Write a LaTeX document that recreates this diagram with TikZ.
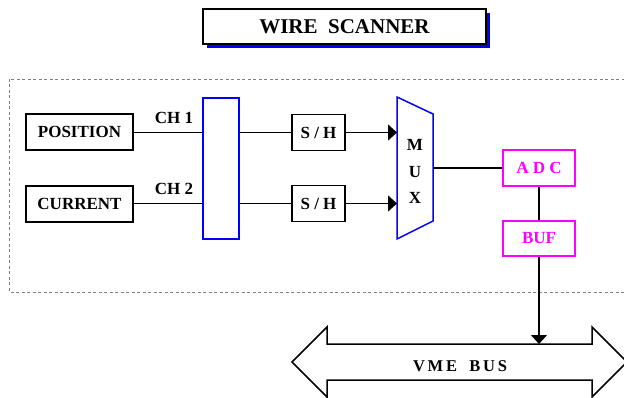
\documentclass[tikz,border=0pt]{standalone}
\usepackage{fontspec}
\setmainfont{Liberation Serif}
\usetikzlibrary{arrows.meta,shadows}
\definecolor{pinkmag}{RGB}{255,0,255}
\begin{document}
\begin{tikzpicture}[x=1pt,y=-1pt,
		txt/.style={font=\fontsize{17}{20}\selectfont\bfseries},
		blk/.style={txt,draw,line width=1.5pt,inner sep=0pt},
		pink/.style={blk,draw=pinkmag,text=pinkmag},
		tip/.style={-{Triangle[length=9pt,width=16pt]}}]
		\useasboundingbox (0,0) rectangle (624,398);
		\draw[gray,line width=0.9pt,dash pattern=on 3pt off 2.5pt] (9,79) rectangle (640,292);
		\node[blk,line width=2pt,minimum width=283pt,minimum height=35pt,font=\fontsize{21}{24}\selectfont\bfseries,
			drop shadow={shadow xshift=4pt,shadow yshift=-4pt,fill=blue,opacity=1},fill=white] (title) at (344.5,26.5) {WIRE\ \ SCANNER};
		\node[blk,minimum width=107pt,minimum height=36pt] (pos) at (79.5,132) {POSITION};
		\node[blk,minimum width=107pt,minimum height=36pt] (cur) at (79.5,204) {CURRENT};
		\node[blk,draw=blue,minimum width=36pt,minimum height=141pt] (sel) at (221,168.5) {};
		\node[blk,minimum width=53pt,minimum height=36pt] (sh1) at (318.5,132.5) {S / H};
		\node[blk,minimum width=53pt,minimum height=36pt] (sh2) at (318.5,203.5) {S / H};
		\node[pink,minimum width=72pt,minimum height=36pt] (adc) at (539,168) {A D C};
		\node[pink,minimum width=72pt,minimum height=35pt] (buf) at (539,238.5) {BUF};
		\node[txt] (ch1) at (174,118) {CH 1};
		\node[txt] (ch2) at (174,188.5) {CH 2};
		\coordinate (mtl) at (397,97);
		\coordinate (mtr) at (433,114);
		\coordinate (mbr) at (433,221);
		\coordinate (mbl) at (397,239);
		\coordinate (mout) at (433,168);
		\draw[blue,line width=1.5pt] (mtl) -- (mtr) -- (mbr) -- (mbl) -- cycle;
		\node[txt,align=center,font=\fontsize{17}{26.5}\selectfont\bfseries] (mux) at (415,171.5) {M\\U\\X};
		\draw[line width=1.5pt] (pos.east |- sh1) -- (sel.west |- sh1);
		\draw[line width=1.5pt] (cur.east |- sh2) -- (sel.west |- sh2);
		\draw[line width=1.5pt] (sel.east |- sh1) -- (sh1.west);
		\draw[line width=1.5pt] (sel.east |- sh2) -- (sh2.west);
		\draw[line width=1.5pt,tip] (sh1.east) -- (sh1.east -| mtl);
		\draw[line width=1.5pt,tip] (sh2.east) -- (sh2.east -| mtl);
		\draw[line width=1.5pt] (mout) -- (adc.west);
		\draw[line width=1.5pt] (adc.south) -- (buf.north);
		\coordinate (ptl) at (327,344);
		\draw[line width=1.5pt] (292,362) -- (327,327) -- (ptl) -- (592,344) -- (592,327) -- (627,362) -- (592,397) -- (592,380) -- (327,380) -- (327,397) -- cycle;
		\draw[line width=1.5pt,tip] (buf.south) -- (buf.south |- ptl);
		\node[txt,font=\fontsize{16.5}{20}\selectfont\bfseries] (bus) at (460,366) {V\,M\,E\ \ \ B\,U\,S};
	\end{tikzpicture}
\end{document}
